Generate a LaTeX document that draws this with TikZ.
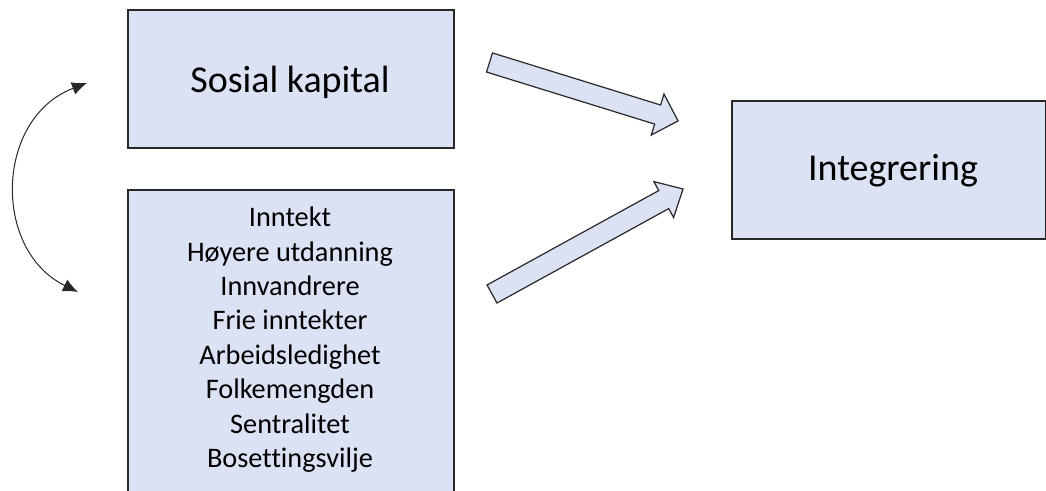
\documentclass[tikz,border=0pt]{standalone}
\usepackage{fontspec}
\setmainfont[Ligatures=NoCommon]{Carlito}
\usetikzlibrary{arrows.meta}
\definecolor{boxfill}{RGB}{218,226,243}
\definecolor{edge}{RGB}{40,40,40}
\tikzset{
  box/.style={draw=edge, fill=boxfill, line width=1.2pt},
  blockarrow/.style={draw=edge, fill=boxfill, line width=1.2pt, line join=miter},
  bigtext/.style={font=\fontsize{38}{44}\selectfont, anchor=base, inner sep=0pt},
  listtext/.style={font=\fontsize{28.3}{34.4}\selectfont, anchor=base, inner sep=0pt},
  curved/.style={{Latex[length=15pt,width=13pt]}-{Latex[length=15pt,width=13pt]}, line width=1pt, edge}
}
\begin{document}
\begin{tikzpicture}[x=1pt,y=-1pt]
\useasboundingbox (0,0) rectangle (1046,490);
% boxes
\draw[box] (128,10) rectangle (454,148);
\node[bigtext] (sk) at (290,92.5) {Sosial kapital};
\draw[box] (128,190) rectangle (454,505);
\foreach \t [count=\i from 0] in {Inntekt,Høyere utdanning,Innvandrere,Frie inntekter,Arbeidsledighet,Folkemengden,Sentralitet,Bosettingsvilje}
  \node[listtext] (l\i) at (290,226.7+34.4*\i) {\t};
\draw[box] (732,101) rectangle (1046,239);
\node[bigtext] (ig) at (893,180) {Integrering};
% block arrows
\draw[blockarrow, shift={(489.5,62.5)}, rotate=-17.2]
  (0,-10) -- (176,-10) -- (176,-21.5) -- (197.4,0) -- (176,21.5) -- (176,10) -- (0,10) -- cycle;
\draw[blockarrow, shift={(492,294)}, rotate=28.8]
  (0,-10.3) -- (196,-10.3) -- (196,-20.5) -- (218,0) -- (196,20.5) -- (196,10.3) -- (0,10.3) -- cycle;
% curved double arrow
\coordinate (ctop) at (87,83);
\coordinate (cbot) at (78,292);
\draw[curved] (ctop) .. controls (-5,118) and (-8,250) .. (cbot);
\end{tikzpicture}
\end{document}
